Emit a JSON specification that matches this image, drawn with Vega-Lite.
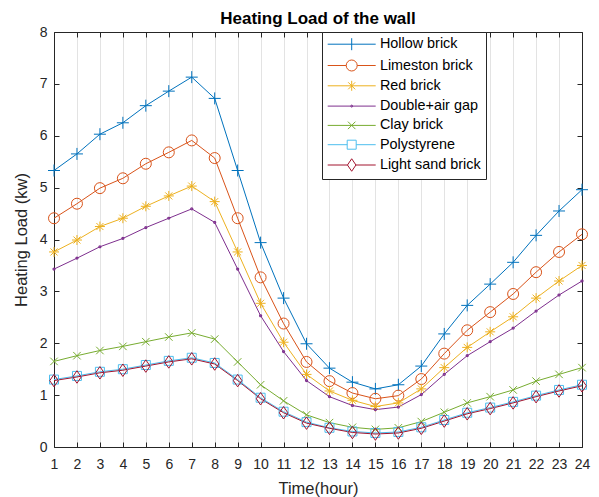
{
  "$schema": "https://vega.github.io/schema/vega-lite/v6.json",
  "width": 528,
  "height": 415,
  "autosize": {"type": "none"},
  "padding": {"left": 54, "top": 32, "right": 17, "bottom": 50},
  "background": "white",
  "title": {"text": "Heating Load of the wall", "fontSize": 17, "font": "Liberation Sans", "fontWeight": "bold", "color": "#000000", "offset": -3, "anchor": "middle"},
  "config": {"view": {"stroke": null}, "font": "Liberation Sans"},
  "data": {"values": [
    {"h":1,"s":"Hollow brick","v":5.33},{"h":2,"s":"Hollow brick","v":5.65},{"h":3,"s":"Hollow brick","v":6.03},{"h":4,"s":"Hollow brick","v":6.25},{"h":5,"s":"Hollow brick","v":6.58},{"h":6,"s":"Hollow brick","v":6.86},{"h":7,"s":"Hollow brick","v":7.13},{"h":8,"s":"Hollow brick","v":6.72},{"h":9,"s":"Hollow brick","v":5.33},{"h":10,"s":"Hollow brick","v":3.94},{"h":11,"s":"Hollow brick","v":2.87},{"h":12,"s":"Hollow brick","v":1.99},{"h":13,"s":"Hollow brick","v":1.52},{"h":14,"s":"Hollow brick","v":1.25},{"h":15,"s":"Hollow brick","v":1.12},{"h":16,"s":"Hollow brick","v":1.20},{"h":17,"s":"Hollow brick","v":1.56},{"h":18,"s":"Hollow brick","v":2.18},{"h":19,"s":"Hollow brick","v":2.73},{"h":20,"s":"Hollow brick","v":3.14},{"h":21,"s":"Hollow brick","v":3.56},{"h":22,"s":"Hollow brick","v":4.08},{"h":23,"s":"Hollow brick","v":4.55},{"h":24,"s":"Hollow brick","v":4.96},
    {"h":1,"s":"Limeston brick","v":4.41},{"h":2,"s":"Limeston brick","v":4.69},{"h":3,"s":"Limeston brick","v":4.99},{"h":4,"s":"Limeston brick","v":5.18},{"h":5,"s":"Limeston brick","v":5.46},{"h":6,"s":"Limeston brick","v":5.68},{"h":7,"s":"Limeston brick","v":5.91},{"h":8,"s":"Limeston brick","v":5.57},{"h":9,"s":"Limeston brick","v":4.41},{"h":10,"s":"Limeston brick","v":3.27},{"h":11,"s":"Limeston brick","v":2.38},{"h":12,"s":"Limeston brick","v":1.64},{"h":13,"s":"Limeston brick","v":1.27},{"h":14,"s":"Limeston brick","v":1.04},{"h":15,"s":"Limeston brick","v":0.93},{"h":16,"s":"Limeston brick","v":0.99},{"h":17,"s":"Limeston brick","v":1.31},{"h":18,"s":"Limeston brick","v":1.80},{"h":19,"s":"Limeston brick","v":2.25},{"h":20,"s":"Limeston brick","v":2.60},{"h":21,"s":"Limeston brick","v":2.95},{"h":22,"s":"Limeston brick","v":3.37},{"h":23,"s":"Limeston brick","v":3.76},{"h":24,"s":"Limeston brick","v":4.10},
    {"h":1,"s":"Red brick","v":3.76},{"h":2,"s":"Red brick","v":3.99},{"h":3,"s":"Red brick","v":4.25},{"h":4,"s":"Red brick","v":4.41},{"h":5,"s":"Red brick","v":4.64},{"h":6,"s":"Red brick","v":4.84},{"h":7,"s":"Red brick","v":5.03},{"h":8,"s":"Red brick","v":4.73},{"h":9,"s":"Red brick","v":3.76},{"h":10,"s":"Red brick","v":2.77},{"h":11,"s":"Red brick","v":2.02},{"h":12,"s":"Red brick","v":1.40},{"h":13,"s":"Red brick","v":1.08},{"h":14,"s":"Red brick","v":0.90},{"h":15,"s":"Red brick","v":0.78},{"h":16,"s":"Red brick","v":0.85},{"h":17,"s":"Red brick","v":1.12},{"h":18,"s":"Red brick","v":1.53},{"h":19,"s":"Red brick","v":1.92},{"h":20,"s":"Red brick","v":2.22},{"h":21,"s":"Red brick","v":2.51},{"h":22,"s":"Red brick","v":2.87},{"h":23,"s":"Red brick","v":3.20},{"h":24,"s":"Red brick","v":3.50},
    {"h":1,"s":"Double+air gap","v":3.43},{"h":2,"s":"Double+air gap","v":3.64},{"h":3,"s":"Double+air gap","v":3.86},{"h":4,"s":"Double+air gap","v":4.02},{"h":5,"s":"Double+air gap","v":4.23},{"h":6,"s":"Double+air gap","v":4.41},{"h":7,"s":"Double+air gap","v":4.59},{"h":8,"s":"Double+air gap","v":4.33},{"h":9,"s":"Double+air gap","v":3.43},{"h":10,"s":"Double+air gap","v":2.53},{"h":11,"s":"Double+air gap","v":1.84},{"h":12,"s":"Double+air gap","v":1.28},{"h":13,"s":"Double+air gap","v":0.97},{"h":14,"s":"Double+air gap","v":0.80},{"h":15,"s":"Double+air gap","v":0.72},{"h":16,"s":"Double+air gap","v":0.77},{"h":17,"s":"Double+air gap","v":1.01},{"h":18,"s":"Double+air gap","v":1.40},{"h":19,"s":"Double+air gap","v":1.76},{"h":20,"s":"Double+air gap","v":2.03},{"h":21,"s":"Double+air gap","v":2.29},{"h":22,"s":"Double+air gap","v":2.62},{"h":23,"s":"Double+air gap","v":2.93},{"h":24,"s":"Double+air gap","v":3.20},
    {"h":1,"s":"Clay brick","v":1.65},{"h":2,"s":"Clay brick","v":1.76},{"h":3,"s":"Clay brick","v":1.86},{"h":4,"s":"Clay brick","v":1.94},{"h":5,"s":"Clay brick","v":2.03},{"h":6,"s":"Clay brick","v":2.12},{"h":7,"s":"Clay brick","v":2.20},{"h":8,"s":"Clay brick","v":2.08},{"h":9,"s":"Clay brick","v":1.64},{"h":10,"s":"Clay brick","v":1.20},{"h":11,"s":"Clay brick","v":0.89},{"h":12,"s":"Clay brick","v":0.62},{"h":13,"s":"Clay brick","v":0.47},{"h":14,"s":"Clay brick","v":0.38},{"h":15,"s":"Clay brick","v":0.34},{"h":16,"s":"Clay brick","v":0.37},{"h":17,"s":"Clay brick","v":0.49},{"h":18,"s":"Clay brick","v":0.67},{"h":19,"s":"Clay brick","v":0.85},{"h":20,"s":"Clay brick","v":0.97},{"h":21,"s":"Clay brick","v":1.10},{"h":22,"s":"Clay brick","v":1.27},{"h":23,"s":"Clay brick","v":1.40},{"h":24,"s":"Clay brick","v":1.53},
    {"h":1,"s":"Polystyrene","v":1.30},{"h":2,"s":"Polystyrene","v":1.37},{"h":3,"s":"Polystyrene","v":1.45},{"h":4,"s":"Polystyrene","v":1.50},{"h":5,"s":"Polystyrene","v":1.58},{"h":6,"s":"Polystyrene","v":1.66},{"h":7,"s":"Polystyrene","v":1.72},{"h":8,"s":"Polystyrene","v":1.62},{"h":9,"s":"Polystyrene","v":1.30},{"h":10,"s":"Polystyrene","v":0.95},{"h":11,"s":"Polystyrene","v":0.68},{"h":12,"s":"Polystyrene","v":0.48},{"h":13,"s":"Polystyrene","v":0.37},{"h":14,"s":"Polystyrene","v":0.30},{"h":15,"s":"Polystyrene","v":0.27},{"h":16,"s":"Polystyrene","v":0.29},{"h":17,"s":"Polystyrene","v":0.38},{"h":18,"s":"Polystyrene","v":0.52},{"h":19,"s":"Polystyrene","v":0.66},{"h":20,"s":"Polystyrene","v":0.76},{"h":21,"s":"Polystyrene","v":0.87},{"h":22,"s":"Polystyrene","v":0.99},{"h":23,"s":"Polystyrene","v":1.10},{"h":24,"s":"Polystyrene","v":1.20},
    {"h":1,"s":"Light sand brick","v":1.28},{"h":2,"s":"Light sand brick","v":1.35},{"h":3,"s":"Light sand brick","v":1.43},{"h":4,"s":"Light sand brick","v":1.48},{"h":5,"s":"Light sand brick","v":1.56},{"h":6,"s":"Light sand brick","v":1.64},{"h":7,"s":"Light sand brick","v":1.70},{"h":8,"s":"Light sand brick","v":1.60},{"h":9,"s":"Light sand brick","v":1.28},{"h":10,"s":"Light sand brick","v":0.93},{"h":11,"s":"Light sand brick","v":0.66},{"h":12,"s":"Light sand brick","v":0.46},{"h":13,"s":"Light sand brick","v":0.36},{"h":14,"s":"Light sand brick","v":0.28},{"h":15,"s":"Light sand brick","v":0.25},{"h":16,"s":"Light sand brick","v":0.27},{"h":17,"s":"Light sand brick","v":0.36},{"h":18,"s":"Light sand brick","v":0.50},{"h":19,"s":"Light sand brick","v":0.64},{"h":20,"s":"Light sand brick","v":0.74},{"h":21,"s":"Light sand brick","v":0.85},{"h":22,"s":"Light sand brick","v":0.97},{"h":23,"s":"Light sand brick","v":1.08},{"h":24,"s":"Light sand brick","v":1.18}
  ]},
  "resolve": {"axis": {"x": "independent", "y": "independent"}},
  "layer": [
    {"mark": {"type": "line", "strokeWidth": 1},
      "encoding": {
        "x": {"field": "h", "type": "quantitative", "title": "Time(hour)",
          "scale": {"domain": [1, 24], "nice": false, "zero": false},
          "axis": {"values": [1,2,3,4,5,6,7,8,9,10,11,12,13,14,15,16,17,18,19,20,21,22,23,24], "grid": true, "gridColor": "#e3e3e3", "gridWidth": 1,
            "domainColor": "#262626", "tickColor": "#262626", "tickSize": -5, "labelPadding": 15, "labelFontSize": 14, "labelColor": "#262626", "labelFont": "Liberation Sans",
            "titleFontSize": 16.5, "titleFontWeight": "normal", "titleColor": "#262626", "titleFont": "Liberation Sans", "titlePadding": 9, "labelFlush": false}},
        "y": {"field": "v", "type": "quantitative", "title": "Heating Load (kw)",
          "scale": {"domain": [0, 8], "nice": false},
          "axis": {"values": [0,1,2,3,4,5,6,7,8], "grid": false,
            "domainColor": "#262626", "tickColor": "#262626", "tickSize": -5, "labelPadding": 12, "labelFontSize": 14, "labelColor": "#262626", "labelFont": "Liberation Sans",
            "titleFontSize": 16.5, "titleFontWeight": "normal", "titleColor": "#262626", "titleFont": "Liberation Sans", "titlePadding": 10}},
        "color": {"field": "s", "type": "nominal",
          "scale": {"domain": ["Hollow brick", "Limeston brick", "Red brick", "Double+air gap", "Clay brick", "Polystyrene", "Light sand brick"],
                    "range": ["#0072BD", "#D95319", "#EDB120", "#7E2F8E", "#77AC30", "#4DBEEE", "#A2142F"]},
          "legend": {"title": null, "orient": "none", "legendX": 268, "legendY": 0, "padding": 5, "rowPadding": 4.3,
            "fillColor": "white", "strokeColor": "#262626", "labelFontSize": 14.4, "labelFont": "Liberation Sans", "labelColor": "#000000",
            "symbolSize": 100, "symbolStrokeWidth": 1, "symbolOffset": 17.5, "labelOffset": 21}},
        "detail": {"field": "s"}
      }},
    {"transform": [{"filter": "datum.s === 'Hollow brick'"}],
      "mark": {"type": "point", "shape": "M-1.2,0H1.2M0,-1.2V1.2", "filled": false, "size": 100, "strokeWidth": 1, "opacity": 1, "color": "#0072BD"},
      "encoding": {"x": {"field": "h", "type": "quantitative", "axis": null}, "y": {"field": "v", "type": "quantitative", "axis": null}}},
    {"transform": [{"filter": "datum.s === 'Limeston brick'"}],
      "mark": {"type": "point", "shape": "M-1.1,0A1.1,1.1,0,1,1,1.1,0A1.1,1.1,0,1,1,-1.1,0Z", "filled": false, "size": 100, "strokeWidth": 1, "opacity": 1, "color": "#D95319"},
      "encoding": {"x": {"field": "h", "type": "quantitative", "axis": null}, "y": {"field": "v", "type": "quantitative", "axis": null}}},
    {"transform": [{"filter": "datum.s === 'Red brick'"}],
      "mark": {"type": "point", "shape": "M-1,0H1M0,-1V1M-0.7,-0.7L0.7,0.7M-0.7,0.7L0.7,-0.7", "filled": false, "size": 100, "strokeWidth": 1, "opacity": 1, "color": "#EDB120"},
      "encoding": {"x": {"field": "h", "type": "quantitative", "axis": null}, "y": {"field": "v", "type": "quantitative", "axis": null}}},
    {"transform": [{"filter": "datum.s === 'Double+air gap'"}],
      "mark": {"type": "point", "shape": "M-0.2,0A0.2,0.2,0,1,1,0.2,0A0.2,0.2,0,1,1,-0.2,0Z", "filled": false, "size": 100, "strokeWidth": 1.2, "opacity": 1, "color": "#7E2F8E"},
      "encoding": {"x": {"field": "h", "type": "quantitative", "axis": null}, "y": {"field": "v", "type": "quantitative", "axis": null}}},
    {"transform": [{"filter": "datum.s === 'Clay brick'"}],
      "mark": {"type": "point", "shape": "M-0.75,-0.75L0.75,0.75M-0.75,0.75L0.75,-0.75", "filled": false, "size": 100, "strokeWidth": 1, "opacity": 1, "color": "#77AC30"},
      "encoding": {"x": {"field": "h", "type": "quantitative", "axis": null}, "y": {"field": "v", "type": "quantitative", "axis": null}}},
    {"transform": [{"filter": "datum.s === 'Polystyrene'"}],
      "mark": {"type": "point", "shape": "M-0.9,-0.9H0.9V0.9H-0.9Z", "filled": false, "size": 100, "strokeWidth": 1, "opacity": 1, "color": "#4DBEEE"},
      "encoding": {"x": {"field": "h", "type": "quantitative", "axis": null}, "y": {"field": "v", "type": "quantitative", "axis": null}}},
    {"transform": [{"filter": "datum.s === 'Light sand brick'"}],
      "mark": {"type": "point", "shape": "M0,-1.25L0.85,0L0,1.25L-0.85,0Z", "filled": false, "size": 100, "strokeWidth": 1, "opacity": 1, "color": "#A2142F"},
      "encoding": {"x": {"field": "h", "type": "quantitative", "axis": null}, "y": {"field": "v", "type": "quantitative", "axis": null}}},
    {"transform": [{"filter": "false"}],
      "mark": {"type": "point", "filled": false, "strokeWidth": 1, "opacity": 1},
      "encoding": {
        "x": {"field": "h", "type": "quantitative", "axis": {"orient": "top", "values": [1,2,3,4,5,6,7,8,9,10,11,12,13,14,15,16,17,18,19,20,21,22,23,24], "labels": false, "title": null, "grid": false, "domainColor": "#262626", "tickColor": "#262626", "tickSize": -5}},
        "y": {"field": "v", "type": "quantitative", "axis": {"orient": "right", "values": [0,1,2,3,4,5,6,7,8], "labels": false, "title": null, "grid": false, "domainColor": "#262626", "tickColor": "#262626", "tickSize": -5}},
        "color": {"field": "s", "type": "nominal",
          "legend": {"title": null, "orient": "none", "legendX": 268, "legendY": 0, "padding": 5, "rowPadding": 4.3,
            "fillColor": "white", "strokeColor": "#262626", "labelFontSize": 14.4, "labelFont": "Liberation Sans", "labelColor": "#000000",
            "symbolSize": 100, "symbolStrokeWidth": 1, "symbolOffset": 17.5, "labelOffset": 21}},
        "shape": {"field": "s", "type": "nominal",
          "scale": {"domain": ["Hollow brick", "Limeston brick", "Red brick", "Double+air gap", "Clay brick", "Polystyrene", "Light sand brick"],
            "range": ["M-4.8,0H4.8M0,-1.2V1.2", "M-4.8,0H-1.1M1.1,0H4.8M-1.1,0A1.1,1.1,0,1,1,1.1,0A1.1,1.1,0,1,1,-1.1,0Z", "M-4.8,0H4.8M0,-1V1M-0.7,-0.7L0.7,0.7M-0.7,0.7L0.7,-0.7", "M-4.8,0H4.8M-0.2,0A0.2,0.2,0,1,1,0.2,0A0.2,0.2,0,1,1,-0.2,0Z", "M-4.8,0H4.8M-0.75,-0.75L0.75,0.75M-0.75,0.75L0.75,-0.75", "M-4.8,0H-0.9M0.9,0H4.8M-0.9,-0.9H0.9V0.9H-0.9Z", "M-4.8,0H-0.85M0.85,0H4.8M0,-1.25L0.85,0L0,1.25L-0.85,0Z"]},
          "legend": {"title": null, "orient": "none", "legendX": 268, "legendY": 0, "padding": 5, "rowPadding": 4.3,
            "fillColor": "white", "strokeColor": "#262626", "labelFontSize": 14.4, "labelFont": "Liberation Sans", "labelColor": "#000000",
            "symbolSize": 100, "symbolStrokeWidth": 1, "symbolOffset": 17.5, "labelOffset": 21}}
      }}
  ]
}
